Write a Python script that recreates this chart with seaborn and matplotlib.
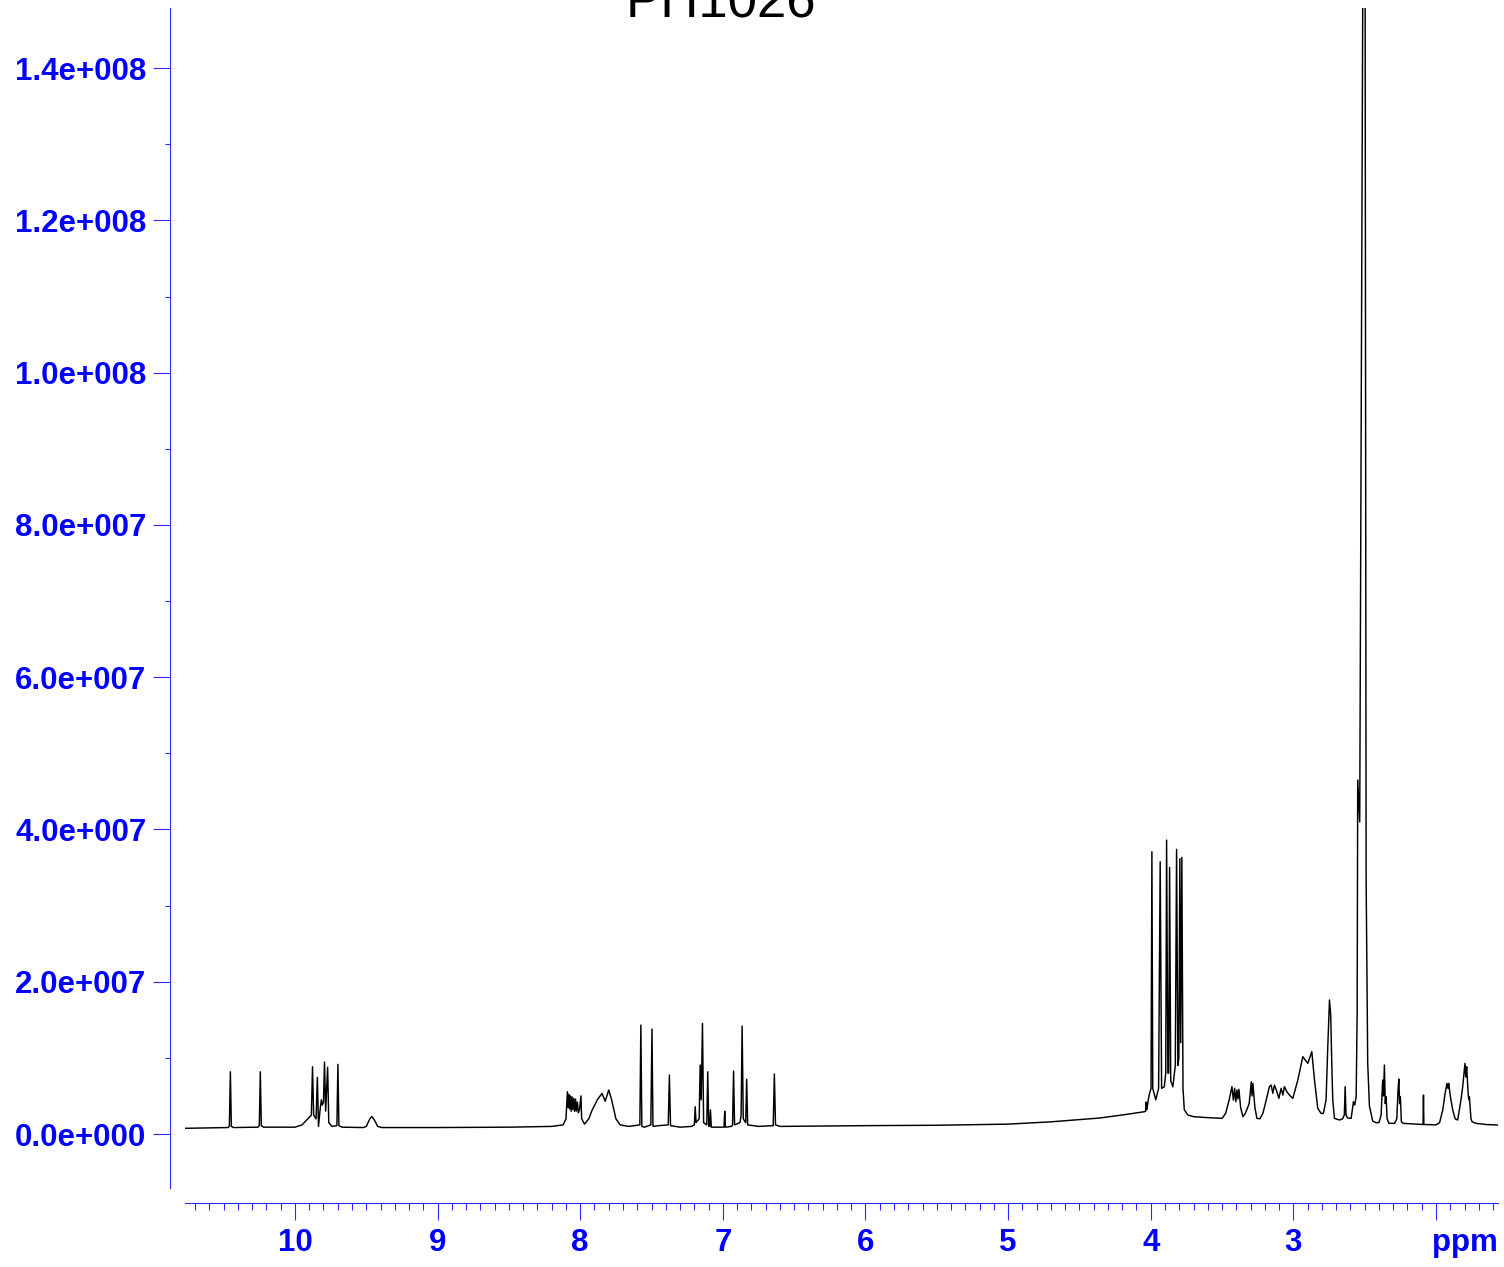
import numpy as np
import pandas as pd
import matplotlib
matplotlib.use("Agg")
import matplotlib.pyplot as plt
import seaborn as sns
from matplotlib.ticker import MultipleLocator, FuncFormatter

# ---------------- data (chemical shift in ppm, intensity in units of 1e7) ----------------
ppm_lowfield = [10.77, 10.60, 10.47, 10.46, 10.453, 10.446, 10.43, 10.26, 10.25, 10.243, 10.236, 10.22,
                10.00, 9.95, 9.91, 9.885, 9.877, 9.869, 9.852, 9.843, 9.835, 9.825, 9.815, 9.808, 9.800,
                9.793, 9.785, 9.771, 9.763, 9.740, 9.706, 9.699, 9.692, 9.670, 9.520, 9.500, 9.475,
                9.461, 9.445, 9.420, 9.390]
int_lowfield = [0.075, 0.080, 0.085, 0.10, 0.818, 0.10, 0.085, 0.09, 0.11, 0.818, 0.11, 0.09,
                0.09, 0.12, 0.20, 0.25, 0.884, 0.25, 0.20, 0.744, 0.10, 0.30, 0.45, 0.38, 0.42,
                0.945, 0.30, 0.876, 0.15, 0.10, 0.11, 0.915, 0.11, 0.09, 0.085, 0.10, 0.20,
                0.23, 0.19, 0.10, 0.085]

ppm_aromatic = [9.00, 8.50, 8.20, 8.12, 8.100, 8.090, 8.085, 8.080, 8.075, 8.070, 8.064, 8.058, 8.052,
                8.046, 8.040, 8.033, 8.028, 8.020, 8.013, 8.005, 7.995, 7.990, 7.970, 7.940, 7.920,
                7.880, 7.847, 7.825, 7.800, 7.780, 7.750, 7.720, 7.660, 7.582, 7.575, 7.568, 7.550,
                7.505, 7.497, 7.490, 7.450, 7.383, 7.375, 7.367, 7.300, 7.220, 7.200, 7.194, 7.188,
                7.166, 7.159, 7.152, 7.143, 7.135, 7.113, 7.106, 7.099, 7.093, 7.087, 7.081, 7.000,
                6.992, 6.987, 6.982, 6.940, 6.932, 6.925, 6.918, 6.880, 6.872, 6.865, 6.857, 6.840,
                6.833, 6.826, 6.750, 6.647, 6.639, 6.631, 6.600]
int_aromatic = [0.085, 0.09, 0.10, 0.12, 0.20, 0.556, 0.35, 0.52, 0.33, 0.50, 0.30, 0.49, 0.32,
                0.47, 0.30, 0.46, 0.30, 0.42, 0.28, 0.32, 0.50, 0.20, 0.13, 0.20, 0.30,
                0.45, 0.534, 0.43, 0.578, 0.45, 0.20, 0.12, 0.10, 0.12, 1.431, 0.10, 0.09,
                0.12, 1.379, 0.10, 0.11, 0.12, 0.775, 0.11, 0.09, 0.10, 0.12, 0.359, 0.15,
                0.20, 0.906, 0.45, 1.453, 0.15, 0.12, 0.818, 0.10, 0.10, 0.315, 0.09, 0.09,
                0.09, 0.30, 0.09, 0.10, 0.12, 0.827, 0.12, 0.15, 0.25, 1.418, 0.20, 0.15,
                0.718, 0.12, 0.10, 0.11, 0.788, 0.12, 0.10]

ppm_midfield = [6.00, 5.50, 5.00, 4.70, 4.50, 4.36, 4.20, 4.044, 4.036, 4.032, 4.027, 4.018, 4.009]
int_midfield = [0.11, 0.115, 0.13, 0.16, 0.19, 0.21, 0.25, 0.293, 0.30, 0.42, 0.32, 0.44, 0.53]

ppm_methoxy = [3.998, 3.992, 3.986, 3.965, 3.945, 3.934, 3.924, 3.905, 3.895, 3.889, 3.880, 3.874,
               3.868, 3.860, 3.845, 3.828, 3.819, 3.810, 3.803, 3.796, 3.790, 3.782, 3.774, 3.765,
               3.740, 3.700, 3.600, 3.500]
int_methoxy = [0.60, 3.707, 0.60, 0.45, 0.60, 3.576, 0.60, 0.62, 0.80, 3.861, 0.80, 0.80,
               3.502, 0.70, 0.62, 0.90, 3.739, 0.90, 1.00, 3.616, 1.20, 3.634, 0.60, 0.32,
               0.25, 0.228, 0.215, 0.206]

ppm_aliphatic = [3.475, 3.450, 3.431, 3.421, 3.412, 3.404, 3.396, 3.389, 3.382, 3.370, 3.354, 3.337,
                 3.310, 3.295, 3.290, 3.284, 3.270, 3.256, 3.235, 3.214, 3.190, 3.168, 3.156, 3.144,
                 3.133, 3.116, 3.102, 3.086, 3.074, 3.063, 3.046, 3.028, 3.004, 2.969, 2.934, 2.899,
                 2.871, 2.852, 2.829, 2.806, 2.790, 2.771, 2.759, 2.747, 2.738, 2.731, 2.724, 2.712,
                 2.677, 2.655, 2.643, 2.637, 2.631, 2.620]
int_aliphatic = [0.271, 0.45, 0.622, 0.446, 0.600, 0.424, 0.578, 0.46, 0.587, 0.35, 0.228, 0.271,
                 0.40, 0.687, 0.50, 0.665, 0.35, 0.206, 0.20, 0.271, 0.45, 0.622, 0.643, 0.534,
                 0.643, 0.556, 0.468, 0.600, 0.512, 0.622, 0.556, 0.512, 0.468, 0.709, 1.016, 0.928,
                 1.082, 0.709, 0.337, 0.271, 0.27, 0.446, 1.143, 1.760, 1.55, 0.928, 0.446, 0.206,
                 0.184, 0.20, 0.25, 0.622, 0.25, 0.21]

ppm_solvent = [2.595, 2.579, 2.570, 2.560, 2.553, 2.549, 2.535, 2.514, 2.505, 2.497, 2.490, 2.479,
               2.467, 2.444, 2.420]
int_solvent = [0.206, 0.424, 0.381, 0.49, 1.58, 4.65, 4.10, 14.79, 21.0, 14.79, 3.34, 0.93,
               0.37, 0.17, 0.149]

ppm_upfield = [2.400, 2.385, 2.374, 2.368, 2.362, 2.356, 2.350, 2.343, 2.330, 2.290, 2.275, 2.267,
               2.261, 2.255, 2.250, 2.243, 2.230, 2.100, 2.091, 2.088, 2.085, 2.000, 1.975, 1.953,
               1.935, 1.923, 1.916, 1.911, 1.900, 1.883, 1.866, 1.848, 1.825, 1.813, 1.797, 1.791,
               1.785, 1.775, 1.770, 1.766, 1.755, 1.747, 1.719, 1.650, 1.565]
int_upfield = [0.15, 0.25, 0.709, 0.50, 0.906, 0.40, 0.49, 0.20, 0.14, 0.14, 0.20, 0.55,
               0.722, 0.40, 0.49, 0.16, 0.14, 0.125, 0.125, 0.512, 0.125, 0.12, 0.15, 0.315,
               0.55, 0.665, 0.600, 0.665, 0.50, 0.315, 0.20, 0.184, 0.45, 0.622, 0.928, 0.75,
               0.884, 0.534, 0.45, 0.49, 0.20, 0.16, 0.14, 0.125, 0.118]

title_text = "PH1026"
x_unit_label = "ppm"
INTENSITY_UNIT = 1e7

# ---------------- build table ----------------
ppm_parts = [ppm_lowfield, ppm_aromatic, ppm_midfield, ppm_methoxy, ppm_aliphatic, ppm_solvent, ppm_upfield]
int_parts = [int_lowfield, int_aromatic, int_midfield, int_methoxy, int_aliphatic, int_solvent, int_upfield]
for p, i in zip(ppm_parts, int_parts):
    assert len(p) == len(i), (len(p), len(i))
df = pd.DataFrame({
    "ppm": np.concatenate([np.asarray(p, float) for p in ppm_parts]),
    "intensity": np.concatenate([np.asarray(i, float) for i in int_parts]) * INTENSITY_UNIT,
})

# ---------------- style ----------------
sns.set_theme(style="ticks")
plt.rcParams["font.family"] = ["Liberation Sans", "DejaVu Sans"]

BLUE = "#0000ff"
SPINE_BLUE = "#2b2bff"
W, H = 1504, 1267
fig = plt.figure(figsize=(W / 100, H / 100), dpi=100)
ax = fig.add_axes([185 / W, 1 - 1188 / H, (1498 - 185) / W, (1188 - 8) / H])

sns.lineplot(data=df, x="ppm", y="intensity", ax=ax, sort=False, estimator=None,
             color="black", linewidth=1.05)

ax.set_xlim(10.771, 1.5655)
ax.set_ylim(-0.709e7, 14.79e7)
ax.set_xlabel("")
ax.set_ylabel("")

offset_pt = 10.8
sns.despine(ax=ax, offset=offset_pt)
for s in ["left", "bottom"]:
    ax.spines[s].set_color(SPINE_BLUE)
    ax.spines[s].set_linewidth(0.8)

ax.xaxis.set_major_locator(MultipleLocator(1))
ax.xaxis.set_minor_locator(MultipleLocator(0.1))
ax.yaxis.set_major_locator(MultipleLocator(2e7))
ax.yaxis.set_minor_locator(MultipleLocator(1e7))


def yfmt(v, pos):
    m, e = f"{v:.1e}".split("e")
    return f"{m}e{e[0]}{int(e[1:]):03d}"


def xfmt(v, pos):
    if abs(v - 2) < 1e-6:
        return ""
    return f"{v:.0f}"


ax.yaxis.set_major_formatter(FuncFormatter(yfmt))
ax.xaxis.set_major_formatter(FuncFormatter(xfmt))

major_len = 12
label_size = 22.5
ax.tick_params(axis="both", which="both", direction="out", color=SPINE_BLUE, width=0.8,
               labelcolor=BLUE, labelsize=label_size)
ax.tick_params(axis="x", which="major", length=major_len, pad=6)
ax.tick_params(axis="x", which="minor", length=5)
ax.tick_params(axis="y", which="major", length=major_len, pad=5)
ax.tick_params(axis="y", which="minor", length=3.6)
for lbl in ax.get_xticklabels() + ax.get_yticklabels():
    lbl.set_fontweight("bold")

ax.annotate(x_unit_label, xy=(1, 0), xycoords="axes fraction",
            xytext=(0, -(offset_pt + major_len + 6)), textcoords="offset points",
            ha="right", va="top", fontsize=label_size, fontweight="bold", color=BLUE)

fig.text(721 / W, 1 - 18 / H, title_text, ha="center", va="baseline",
         fontsize=38, color="black", fontweight="normal")

fig.savefig("out.png", dpi=100)
